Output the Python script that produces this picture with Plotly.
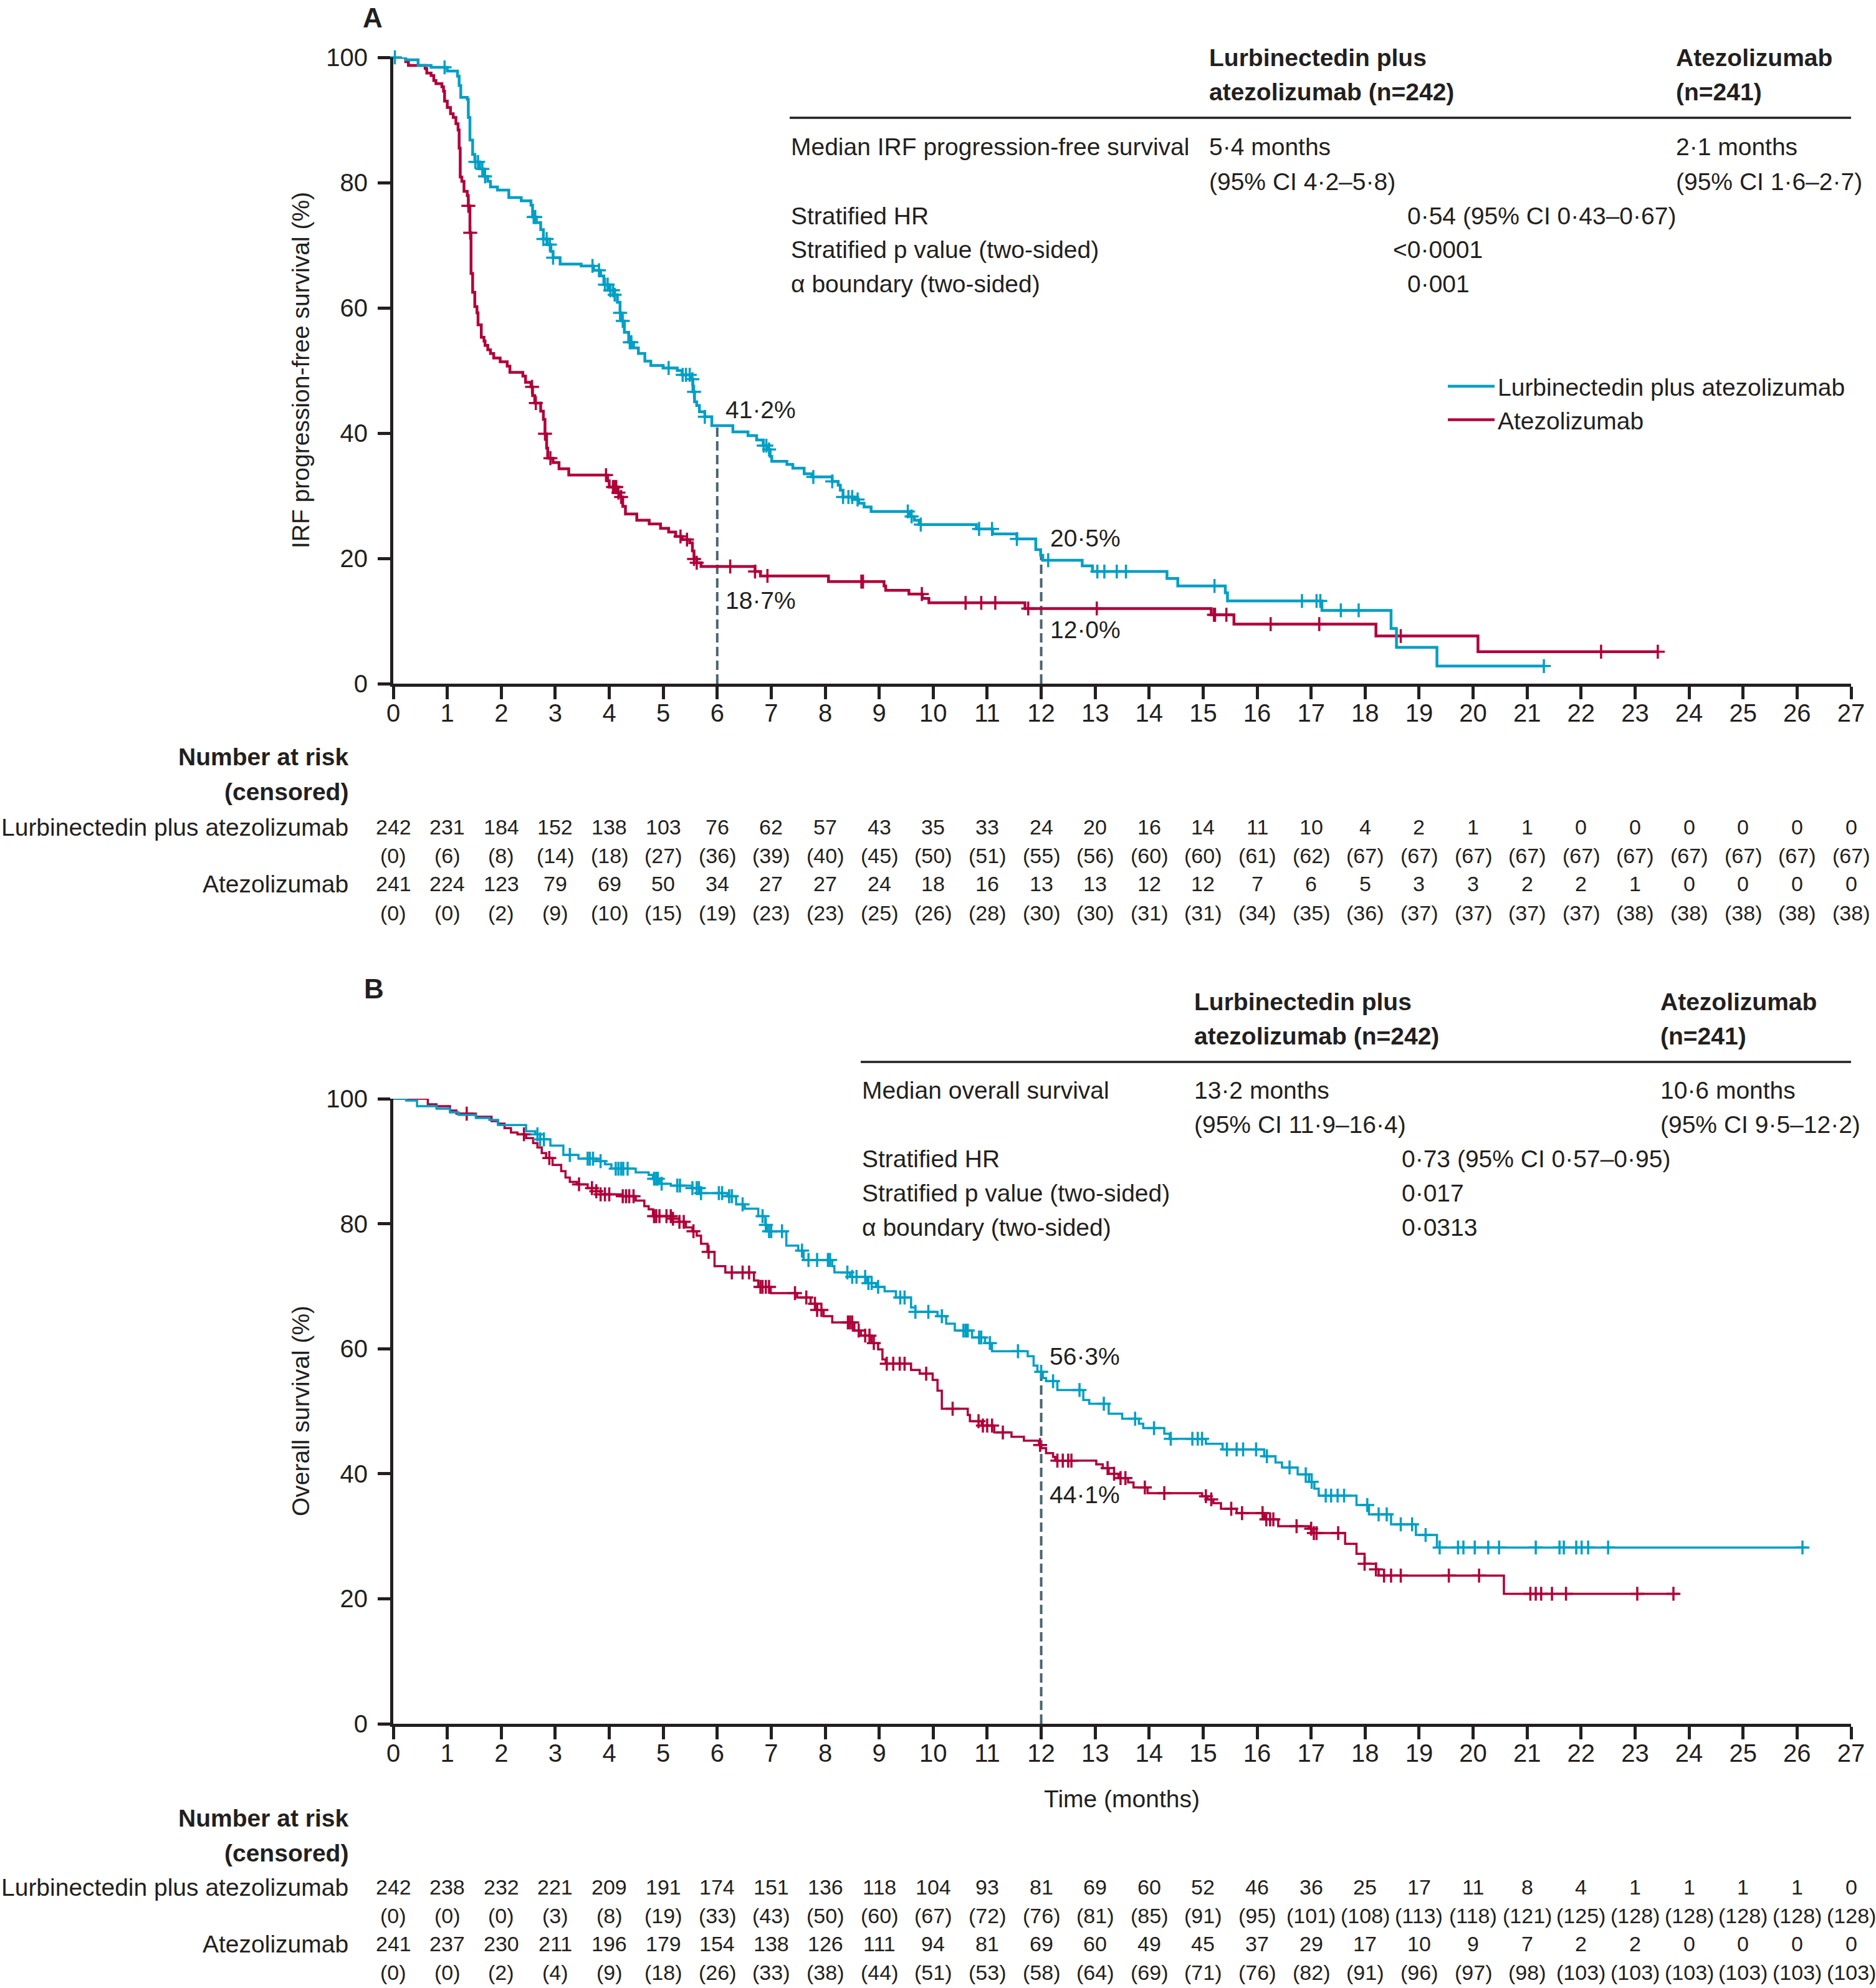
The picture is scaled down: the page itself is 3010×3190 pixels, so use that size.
import numpy as np
import plotly.graph_objects as go

W, H = 3010, 3190
FONT = "Liberation Sans, Arial, sans-serif"
INK = "#231F20"
BLUE = "#009FC5"
RED = "#B0003A"
DASHC = "#4A6470"
FS = 39
FS_NUM = 34

# ---------------- Panel A: IRF progression-free survival ----------------
pfs_lurbi_t = [0, 0.23, 0.46, 0.7, 1.0, 1.19, 1.22, 1.25, 1.37, 1.39, 1.42, 1.47, 1.51, 1.6, 1.68, 1.75, 1.80, 1.93,
               2.14, 2.37, 2.55, 2.58, 2.65, 2.73, 2.78, 2.85, 2.92, 2.96, 3.09, 3.48, 3.71, 3.84, 3.90, 4.0, 4.1,
               4.15, 4.2, 4.23, 4.28, 4.36, 4.45, 4.54, 4.66, 4.77, 5.0, 5.26, 5.35, 5.52, 5.55, 5.58, 5.62, 5.67,
               5.77, 5.9, 6.29, 6.57, 6.73, 6.85, 6.92, 6.98, 7.01, 7.29, 7.4, 7.61, 7.75, 8.13, 8.24, 8.28, 8.33,
               8.55, 8.62, 8.72, 8.85, 9.57, 9.65, 9.74, 10.8, 11.1, 11.55, 11.9, 11.99, 12.03, 12.76, 12.95, 14.33,
               14.53, 15.41, 15.45, 17.2, 18.48, 18.58, 19.33, 21.31]
pfs_lurbi_s = [100, 99.6, 98.7, 98.4, 97.8, 97.0, 95.5, 93.6, 93.3, 90.4, 86.8, 84.5, 83.3, 82.2, 81.0, 80.2, 79.3, 78.8,
               77.6, 77.1, 76.4, 74.5, 73.6, 72.5, 71.0, 70.1, 69.0, 68.0, 67.0, 66.7, 66.0, 65.1, 63.7, 62.8, 62.1,
               60.9, 59.2, 57.9, 56.1, 54.5, 53.6, 52.7, 51.5, 50.8, 50.4, 50.0, 49.3, 48.6, 46.6, 45.0, 44.4, 43.4,
               42.6, 41.2, 40.2, 39.6, 38.9, 38.0, 37.4, 36.3, 35.5, 35.0, 34.4, 33.5, 33.0, 32.3, 31.7, 30.9, 29.8,
               29.4, 28.8, 28.2, 27.5, 26.7, 26.1, 25.4, 24.7, 23.9, 23.1, 21.4, 20.5, 19.7, 18.8, 17.9, 16.8,
               15.6, 14.5, 13.2, 11.7, 8.8, 5.8, 2.8, 2.8]
pfs_lurbi_cens = [0.03, 0.95, 1.52, 1.57, 1.65, 1.7, 2.6, 2.63, 2.78, 2.84, 2.9, 2.96, 3.69, 3.81, 3.92, 3.97, 4.02,
                  4.07, 4.1, 4.2, 4.25, 4.38, 4.41, 5.1, 5.36, 5.42, 5.49, 5.54, 5.57, 5.77, 6.86, 6.91, 6.96, 7.78,
                  8.13, 8.33, 8.43, 8.5, 8.6, 9.53, 9.6, 9.77, 10.85, 11.09, 11.55, 12.13, 13.04, 13.17, 13.4, 13.57,
                  15.21, 16.83, 17.1, 17.17, 17.55, 17.88, 21.31]

pfs_atezo_t = [0, 0.23, 0.28, 0.59, 0.62, 0.7, 0.75, 0.79, 0.9, 0.93, 0.95, 1.0, 1.06, 1.11, 1.16, 1.2, 1.22, 1.24,
               1.27, 1.31, 1.37, 1.39, 1.42, 1.44, 1.47, 1.51, 1.55, 1.57, 1.63, 1.68, 1.7, 1.75, 1.8, 1.86, 1.98,
               2.11, 2.16, 2.4, 2.45, 2.55, 2.58, 2.62, 2.73, 2.78, 2.81, 2.84, 2.86, 2.96, 3.07, 3.25, 3.97, 4.0,
               4.15, 4.2, 4.25, 4.3, 4.51, 4.74, 4.95, 5.1, 5.23, 5.35, 5.49, 5.54, 5.57, 5.62, 5.7, 6.7, 6.8, 8.06,
               9.09, 9.12, 9.55, 9.8, 9.92, 11.7, 15.15, 15.57, 18.2, 20.09, 23.42]
pfs_atezo_s = [100, 99.3, 98.7, 98.2, 97.5, 97.1, 96.3, 95.8, 95.3, 94.6, 93.0, 92.0, 91.0, 90.4, 89.4, 88.4, 85.5, 80.9,
               80.2, 78.6, 77.9, 76.3, 72.0, 65.5, 62.5, 60.2, 59.2, 57.3, 55.3, 54.7, 54.0, 53.3, 52.7, 52.0, 51.4,
               50.7, 49.7, 49.1, 48.1, 47.4, 46.0, 44.8, 43.5, 42.2, 39.9, 37.6, 36.0, 35.3, 34.3, 33.3, 32.4, 31.4,
               30.5, 29.8, 28.3, 27.1, 26.1, 25.5, 24.8, 24.2, 23.5, 23.0, 22.5, 21.2, 19.9, 19.3, 18.7, 17.9, 17.2,
               16.3, 15.6, 14.9, 14.3, 13.6, 12.9, 12.0, 11.0, 9.5, 7.6, 5.1, 5.1]
pfs_atezo_cens = [1.39, 1.425, 2.57, 2.64, 2.81, 2.91, 3.94, 4.07, 4.1, 4.13, 4.17, 4.22, 5.32, 5.44, 5.57, 5.62,
                  6.24, 6.7, 6.93, 8.67, 8.7, 9.79, 10.6, 10.89, 11.15, 11.76, 13.03, 15.2, 15.22, 15.43, 16.25,
                  17.15, 18.66, 22.37, 23.42]

pfs_risk_lurbi = [242, 231, 184, 152, 138, 103, 76, 62, 57, 43, 35, 33, 24, 20, 16, 14, 11, 10, 4, 2, 1, 1, 0, 0, 0, 0, 0, 0]
pfs_cens_lurbi = [0, 6, 8, 14, 18, 27, 36, 39, 40, 45, 50, 51, 55, 56, 60, 60, 61, 62, 67, 67, 67, 67, 67, 67, 67, 67, 67, 67]
pfs_risk_atezo = [241, 224, 123, 79, 69, 50, 34, 27, 27, 24, 18, 16, 13, 13, 12, 12, 7, 6, 5, 3, 3, 2, 2, 1, 0, 0, 0, 0]
pfs_cens_atezo = [0, 0, 2, 9, 10, 15, 19, 23, 23, 25, 26, 28, 30, 30, 31, 31, 34, 35, 36, 37, 37, 37, 37, 38, 38, 38, 38, 38]

# ---------------- Panel B: overall survival ----------------
os_lurbi_t = [0, 0.24, 0.44, 0.8, 1.05, 1.21, 1.53, 1.78, 1.94, 2.46, 2.63, 2.72, 2.91, 3.15, 3.43, 3.76, 3.92, 4.04,
              4.49, 4.73, 4.81, 4.93, 5.14, 5.54, 5.7, 6.19, 6.35, 6.51, 6.76, 6.89, 6.92, 7.28, 7.5, 7.6, 8.13, 8.17,
              8.46, 8.78, 8.94, 9.1, 9.31, 9.59, 9.67, 10.08, 10.24, 10.4, 10.72, 10.96, 11.09, 11.75, 11.86, 11.93,
              12.03, 12.09, 12.3, 12.78, 12.89, 13.25, 13.5, 13.81, 13.89, 14.28, 14.38, 15.05, 15.36, 16.13, 16.34,
              16.46, 16.75, 16.96, 17.06, 17.14, 17.84, 18.07, 18.48, 18.94, 19.33, 26.19]
os_lurbi_s = [100, 99.7, 98.8, 98.4, 97.8, 97.4, 96.9, 96.6, 95.8, 94.8, 94.3, 93.5, 92.5, 91.0, 90.4, 90.0, 89.5, 88.8,
              88.2, 87.8, 87.2, 86.4, 86.1, 85.7, 84.9, 84.4, 83.1, 82.4, 81.2, 79.8, 78.8, 76.5, 75.7, 74.2, 73.2, 72.2,
              71.5, 70.5, 69.9, 69.2, 68.2, 66.6, 65.9, 65.2, 64.0, 62.9, 61.8, 60.9, 59.6, 58.8, 57.3, 56.3,
              55.3, 54.8, 53.4, 51.8, 51.2, 49.6, 48.8, 48.0, 47.3, 46.4, 45.6, 44.8, 43.9, 42.8, 41.8,
              41.0, 39.9, 38.7, 37.6, 36.5, 35.0, 33.5, 31.9, 30.2, 28.2, 28.2]
os_lurbi_cens = [2.67, 2.72, 2.79, 3.27, 3.6, 3.64, 3.7, 3.84, 4.12, 4.17, 4.22, 4.26, 4.34, 4.83, 4.87, 4.9, 4.97,
                 5.26, 5.31, 5.54, 5.62, 5.66, 5.7, 6.03, 6.09, 6.22, 6.27, 6.47, 6.84, 6.9, 6.96, 7.0, 7.2, 7.57, 7.69,
                 7.85, 8.05, 8.09, 8.41, 8.5, 8.58, 8.74, 8.8, 8.86, 8.98, 9.39, 9.47, 9.67, 9.91, 10.16, 10.56, 10.6,
                 10.64, 10.85, 10.89, 11.05, 11.57, 12.0, 12.22, 12.71, 13.16, 13.74, 14.09, 14.4, 14.8, 14.9, 14.98,
                 15.44, 15.62, 15.74, 15.98, 16.18, 16.6, 16.9, 17.01, 17.27, 17.37, 17.49, 17.61, 18.04, 18.25, 18.4,
                 18.66, 18.87, 19.12, 19.38, 19.72, 19.82, 20.03, 20.28, 20.48, 21.16, 21.6, 21.68, 21.91, 22.01,
                 22.13, 22.5, 26.1]

os_atezo_t = [0, 0.64, 0.8, 1.05, 1.17, 1.53, 1.82, 1.94, 2.06, 2.18, 2.3, 2.46, 2.59, 2.67, 2.75, 2.83, 2.95, 3.11,
              3.19, 3.27, 3.4, 3.6, 3.76, 3.84, 4.25, 4.49, 4.65, 4.73, 4.81, 5.18, 5.3, 5.42, 5.54, 5.62, 5.7, 5.82,
              5.95, 6.15, 6.68, 6.76, 6.99, 7.48, 7.73, 7.85, 7.97, 8.13, 8.54, 8.66, 8.86, 8.98, 9.06, 9.12, 9.59,
              9.75, 9.99, 10.08, 10.16, 10.64, 10.68, 10.9, 11.13, 11.45, 11.68, 11.96, 12.0, 12.09, 12.22, 12.26,
              13.02, 13.14, 13.25, 13.43, 13.61, 13.71, 13.97, 14.98, 15.08, 15.19, 15.33, 15.62, 16.13, 16.39,
              16.96, 17.01, 17.63, 17.84, 17.99, 18.2, 18.25, 20.57, 23.81]
os_atezo_s = [100, 99.1, 98.8, 98.1, 97.6, 97.1, 96.4, 96.0, 95.3, 94.6, 94.3, 93.7, 92.9, 92.2, 91.3, 90.5, 89.4, 88.4,
              87.4, 86.7, 86.3, 85.7, 85.2, 84.7, 84.4, 83.7, 82.8, 82.3, 81.2, 80.8, 80.3, 79.4, 78.8, 78.1, 76.8, 75.5,
              73.2, 72.2, 70.9, 69.9, 68.9, 68.2, 67.2, 66.2, 65.2, 64.2, 62.9, 62.1, 60.9, 59.9, 58.3, 57.6, 56.6,
              56.0, 55.0, 53.3, 50.4, 49.4, 48.4, 47.7, 46.6, 45.9, 45.3, 44.6, 44.1, 43.3, 42.7, 42.1,
              41.5, 40.9, 40.0, 39.3, 38.6, 37.8, 36.9, 36.4, 35.9, 35.3, 34.4, 33.7, 32.7, 31.6,
              31.2, 30.5, 28.8, 27.2, 25.6, 24.7, 23.7, 20.8, 20.8]
os_atezo_cens = [1.36, 2.42, 2.89, 3.44, 3.68, 3.76, 3.84, 3.92, 4.0, 4.25, 4.31, 4.37, 4.45, 4.83, 4.87, 4.93, 5.06,
                 5.14, 5.18, 5.3, 5.38, 5.56, 5.84, 6.27, 6.47, 6.59, 6.8, 6.84, 6.9, 6.96, 7.44, 7.65, 7.81, 7.85,
                 7.93, 8.42, 8.46, 8.5, 8.62, 8.74, 8.82, 8.9, 9.14, 9.26, 9.38, 9.47, 9.87, 10.36, 10.84, 10.92,
                 11.0, 11.09, 11.29, 11.98, 12.3, 12.4, 12.5, 12.56, 13.23, 13.35, 13.47, 13.56, 13.92, 14.28, 15.05,
                 15.15, 15.52, 15.72, 16.1, 16.17, 16.24, 16.3, 16.73, 17.0, 17.05, 17.1, 17.5, 17.99, 18.2, 18.35,
                 18.48, 18.66, 19.55, 20.11, 21.06, 21.16, 21.26, 21.46, 21.72, 23.04, 23.71]

os_risk_lurbi = [242, 238, 232, 221, 209, 191, 174, 151, 136, 118, 104, 93, 81, 69, 60, 52, 46, 36, 25, 17, 11, 8, 4, 1, 1, 1, 1, 0]
os_cens_lurbi = [0, 0, 0, 3, 8, 19, 33, 43, 50, 60, 67, 72, 76, 81, 85, 91, 95, 101, 108, 113, 118, 121, 125, 128, 128, 128, 128, 128]
os_risk_atezo = [241, 237, 230, 211, 196, 179, 154, 138, 126, 111, 94, 81, 69, 60, 49, 45, 37, 29, 17, 10, 9, 7, 2, 2, 0, 0, 0, 0]
os_cens_atezo = [0, 0, 2, 4, 9, 18, 26, 33, 38, 44, 51, 53, 58, 64, 69, 71, 76, 82, 91, 96, 97, 98, 103, 103, 103, 103, 103, 103]

months = list(range(0, 28))
y_ticks = [0, 20, 40, 60, 80, 100]
landmarks_A = [(6, 41.2, 18.7), (12, 20.5, 12.0)]
landmarks_B = [(12, 56.3, 44.1)]


def px(x):
    return x / W


def py(y):
    return 1 - y / H


def step_at(ts, ss, t):
    i = np.searchsorted(np.asarray(ts), t, side="right") - 1
    return ss[max(i, 0)]


fig = go.Figure()


def add_km(ts, ss, cens, color, width, xa, ya, name, showlegend):
    fig.add_trace(go.Scatter(x=ts, y=ss, mode="lines", line=dict(color=color, width=width, shape="hv"),
                             xaxis=xa, yaxis=ya, name=name, showlegend=showlegend, hoverinfo="skip"))
    cy = [step_at(ts, ss, c) for c in cens]
    fig.add_trace(go.Scatter(x=cens, y=cy, mode="markers", cliponaxis=False,
                             marker=dict(symbol="cross-thin", size=16, line=dict(color=color, width=3.5)),
                             xaxis=xa, yaxis=ya, showlegend=False, hoverinfo="skip"))


# dashed landmark lines
for (t, a, b) in landmarks_A:
    fig.add_trace(go.Scatter(x=[t, t], y=[0, a], mode="lines", line=dict(color=DASHC, width=4, dash="15px,7px"),
                             xaxis="x", yaxis="y", showlegend=False, hoverinfo="skip"))
for (t, a, b) in landmarks_B:
    fig.add_trace(go.Scatter(x=[t, t], y=[0, a], mode="lines", line=dict(color=DASHC, width=4, dash="15px,7px"),
                             xaxis="x2", yaxis="y2", showlegend=False, hoverinfo="skip"))

add_km(pfs_atezo_t, pfs_atezo_s, pfs_atezo_cens, RED, 4.5, "x", "y", "Atezolizumab", True)
add_km(pfs_lurbi_t, pfs_lurbi_s, pfs_lurbi_cens, BLUE, 4.5, "x", "y", "Lurbinectedin plus atezolizumab", True)
add_km(os_atezo_t, os_atezo_s, os_atezo_cens, RED, 3.5, "x2", "y2", "Atezolizumab", False)
add_km(os_lurbi_t, os_lurbi_s, os_lurbi_cens, BLUE, 3.5, "x2", "y2", "Lurbinectedin plus atezolizumab", False)

ax_common = dict(showline=True, linewidth=5, linecolor=INK, ticks="outside", ticklen=20, tickwidth=5,
                 tickcolor=INK, showgrid=False, zeroline=False, fixedrange=True, automargin=False,
                 tickfont=dict(family=FONT, size=40, color=INK))
xdom = [px(631), px(2970)]
fig.update_layout(
    width=W, height=H, margin=dict(l=0, r=0, t=0, b=0, autoexpand=False), paper_bgcolor="white",
    plot_bgcolor="white",
    font=dict(family=FONT, size=FS, color=INK),
    xaxis=dict(domain=xdom, range=[0, 27], tickvals=months, anchor="y", ticklabelstandoff=-12, **ax_common),
    yaxis=dict(domain=[py(1097), py(92)], range=[0, 100], tickvals=y_ticks, anchor="x",
               ticklabelstandoff=8, **ax_common),
    xaxis2=dict(domain=xdom, range=[0, 27], tickvals=months, anchor="y2", ticklabelstandoff=-12, **ax_common),
    yaxis2=dict(domain=[py(2766), py(1763)], range=[0, 100], tickvals=y_ticks, anchor="x2",
                ticklabelstandoff=8, **ax_common),
    legend=dict(x=px(2318), y=py(588), xanchor="left", yanchor="top", traceorder="reversed",
                font=dict(family=FONT, size=FS, color=INK), bgcolor="rgba(0,0,0,0)", itemwidth=75,
                tracegroupgap=0),
    showlegend=True,
)

ann = []


def text(x, y, s, size=FS, bold=False, xanchor="left", xref="paper", angle=0):
    ann.append(dict(x=x if xref != "paper" else px(x), y=py(y), xref=xref, yref="paper",
                    text=(f"<b>{s}</b>" if bold else s),
                    showarrow=False, xanchor=xanchor, yanchor="middle", textangle=angle,
                    font=dict(family=FONT, size=size, color=INK)))


# Panel letters
text(580, 29, "A", size=44, bold=True)
text(582, 1586, "B", size=44, bold=True)

# Y axis titles
text(482, 594, "IRF progression-free survival (%)", xanchor="center", angle=-90)
text(482, 2264, "Overall survival (%)", xanchor="center", angle=-90)
text(1800, 2886, "Time (months)", xanchor="center")

# Panel A summary table
text(1938, 92, "Lurbinectedin plus", bold=True)
text(1938, 147, "atezolizumab (n=242)", bold=True)
text(2687, 92, "Atezolizumab", bold=True)
text(2687, 147, "(n=241)", bold=True)
text(1267, 236, "Median IRF progression-free survival")
text(1938, 236, "5·4 months")
text(1938, 291, "(95% CI 4·2–5·8)")
text(2687, 236, "2·1 months")
text(2687, 291, "(95% CI 1·6–2·7)")
text(1267, 346, "Stratified HR")
text(2256, 346, "0·54 (95% CI 0·43–0·67)")
text(1267, 401, "Stratified p value (two-sided)")
text(2233, 401, "<0·0001")
text(1267, 455, "α boundary (two-sided)")
text(2256, 455, "0·001")

# Panel B summary table
text(1914, 1607, "Lurbinectedin plus", bold=True)
text(1914, 1662, "atezolizumab (n=242)", bold=True)
text(2662, 1607, "Atezolizumab", bold=True)
text(2662, 1662, "(n=241)", bold=True)
text(1381, 1749, "Median overall survival")
text(1914, 1749, "13·2 months")
text(1914, 1804, "(95% CI 11·9–16·4)")
text(2662, 1749, "10·6 months")
text(2662, 1804, "(95% CI 9·5–12·2)")
text(1381, 1859, "Stratified HR")
text(2247, 1859, "0·73 (95% CI 0·57–0·95)")
text(1381, 1914, "Stratified p value (two-sided)")
text(2247, 1914, "0·017")
text(1381, 1969, "α boundary (two-sided)")
text(2247, 1969, "0·0313")

# landmark labels
text(1162, 657, "41·2%")
text(1162, 964, "18·7%")
text(1683, 863, "20·5%")
text(1683, 1010, "12·0%")
text(1682, 2176, "56·3%")
text(1682, 2398, "44·1%")


# Number at risk tables
def risk_table(xref, ys, risk_l, cens_l, risk_a, cens_a):
    text(561, ys[0], "Number at risk", bold=True, xanchor="right")
    text(561, ys[1], "(censored)", bold=True, xanchor="right")
    text(561, ys[2], "Lurbinectedin plus atezolizumab", xanchor="right")
    text(561, ys[4], "Atezolizumab", xanchor="right")
    for m in months:
        text(m, ys[2], str(risk_l[m]), size=FS_NUM, xanchor="center", xref=xref)
        text(m, ys[3], f"({cens_l[m]})", size=FS_NUM, xanchor="center", xref=xref)
        text(m, ys[4], str(risk_a[m]), size=FS_NUM, xanchor="center", xref=xref)
        text(m, ys[5], f"({cens_a[m]})", size=FS_NUM, xanchor="center", xref=xref)


risk_table("x", [1214, 1270, 1327, 1373, 1418, 1465], pfs_risk_lurbi, pfs_cens_lurbi, pfs_risk_atezo, pfs_cens_atezo)
risk_table("x2", [2917, 2973, 3028, 3074, 3119, 3165], os_risk_lurbi, os_cens_lurbi, os_risk_atezo, os_cens_atezo)

fig.update_layout(annotations=ann)

# header rules
fig.add_shape(type="line", xref="paper", yref="paper", x0=px(1267), x1=px(2970), y0=py(189), y1=py(189),
              line=dict(color=INK, width=3.5))
fig.add_shape(type="line", xref="paper", yref="paper", x0=px(1381), x1=px(2970), y0=py(1704), y1=py(1704),
              line=dict(color=INK, width=3.5))

fig.write_html("out.html", config={"displayModeBar": False},
               post_script="document.body.style.margin='0px';")
